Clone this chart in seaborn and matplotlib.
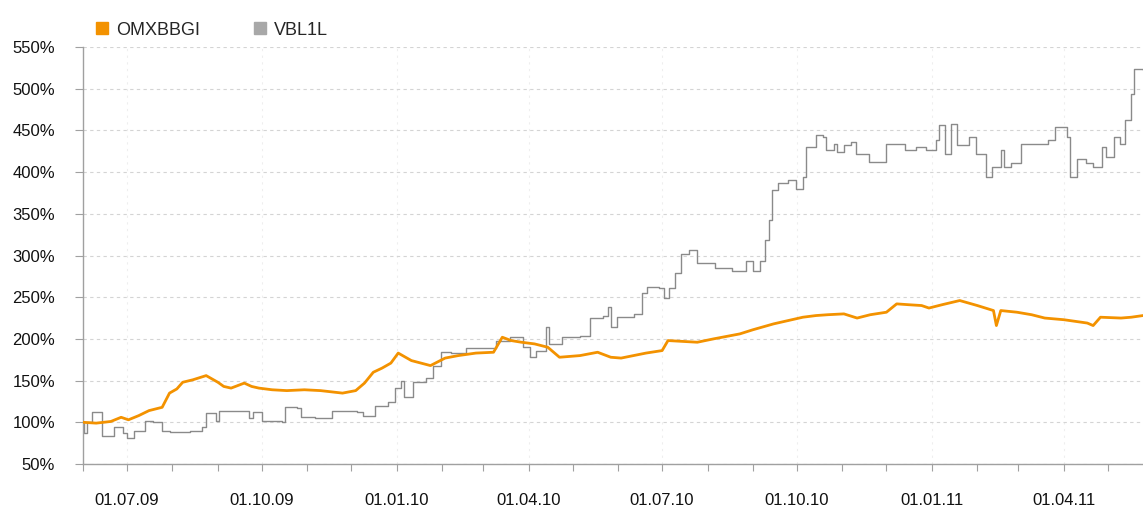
import matplotlib
matplotlib.use("Agg")
from matplotlib import pyplot as plt
import matplotlib.dates as mdates
import matplotlib.ticker as plticker
from matplotlib.lines import Line2D
import seaborn as sns
import pandas as pd

sns.set_theme(style="white")
plt.rcParams['font.family'] = ['Liberation Sans', 'DejaVu Sans']

# OMXBBGI index, % of start value
omx_dates = ["2009-06-01", "2009-06-10", "2009-06-20", "2009-06-27", "2009-07-02", "2009-07-09",
             "2009-07-16", "2009-07-25", "2009-07-30", "2009-08-04", "2009-08-08", "2009-08-15",
             "2009-08-24", "2009-09-01", "2009-09-05", "2009-09-10", "2009-09-19", "2009-09-24",
             "2009-09-29", "2009-10-08", "2009-10-18", "2009-10-30", "2009-11-10", "2009-11-25",
             "2009-12-04", "2009-12-10", "2009-12-16", "2009-12-22", "2009-12-28", "2010-01-02",
             "2010-01-06", "2010-01-11", "2010-01-24", "2010-02-03", "2010-02-12", "2010-02-24",
             "2010-03-08", "2010-03-14", "2010-03-20", "2010-03-27", "2010-04-05", "2010-04-14",
             "2010-04-22", "2010-05-06", "2010-05-18", "2010-05-27", "2010-06-03", "2010-06-20",
             "2010-07-01", "2010-07-05", "2010-07-15", "2010-07-25", "2010-08-05", "2010-08-23",
             "2010-09-01", "2010-09-15", "2010-09-25", "2010-10-05", "2010-10-14", "2010-10-22",
             "2010-11-02", "2010-11-11", "2010-11-20", "2010-12-01", "2010-12-08", "2010-12-16",
             "2010-12-25", "2010-12-30", "2011-01-08", "2011-01-20", "2011-02-01", "2011-02-12",
             "2011-02-14", "2011-02-17", "2011-02-28", "2011-03-10", "2011-03-19", "2011-04-01",
             "2011-04-17", "2011-04-21", "2011-04-26", "2011-05-10", "2011-05-17", "2011-05-25"]
omx_values = [100, 99, 101, 106, 103, 108,
              114, 118, 135, 140, 148, 151,
              156, 148, 143, 141, 147, 143,
              141, 139, 138, 139, 138, 135,
              138, 147, 160, 165, 171, 183,
              179, 174, 168, 177, 180, 183,
              184, 202, 198, 196, 194, 190,
              178, 180, 184, 178, 177, 183,
              186, 198, 197, 196, 200, 206,
              211, 218, 222, 226, 228, 229,
              230, 225, 229, 232, 242, 241,
              240, 237, 241, 246, 240, 234,
              216, 234, 232, 229, 225, 223,
              219, 216, 226, 225, 226, 228]

# VBL1L share, % of start value (step changes)
vbl_dates = ["2009-06-01", "2009-06-02", "2009-06-04", "2009-06-07", "2009-06-14", "2009-06-22",
             "2009-06-28", "2009-07-01", "2009-07-06", "2009-07-13", "2009-07-19", "2009-07-25",
             "2009-07-30", "2009-08-13", "2009-08-21", "2009-08-24", "2009-08-31", "2009-09-02",
             "2009-09-22", "2009-09-25", "2009-10-01", "2009-10-15", "2009-10-17", "2009-10-25",
             "2009-10-28", "2009-11-06", "2009-11-18", "2009-12-05", "2009-12-09", "2009-12-17",
             "2009-12-26", "2009-12-31", "2010-01-04", "2010-01-06", "2010-01-12", "2010-01-21",
             "2010-01-26", "2010-01-31", "2010-02-07", "2010-02-17", "2010-03-10", "2010-03-19",
             "2010-03-28", "2010-04-02", "2010-04-06", "2010-04-13", "2010-04-15", "2010-04-24",
             "2010-05-06", "2010-05-13", "2010-05-22", "2010-05-25", "2010-05-27", "2010-05-31",
             "2010-06-12", "2010-06-17", "2010-06-21", "2010-06-29", "2010-07-02", "2010-07-06",
             "2010-07-10", "2010-07-14", "2010-07-19", "2010-07-25", "2010-08-06", "2010-08-18",
             "2010-08-27", "2010-09-01", "2010-09-06", "2010-09-09", "2010-09-12", "2010-09-14",
             "2010-09-18", "2010-09-25", "2010-09-30", "2010-10-05", "2010-10-07", "2010-10-14",
             "2010-10-19", "2010-10-21", "2010-10-26", "2010-10-28", "2010-11-02", "2010-11-07",
             "2010-11-10", "2010-11-19", "2010-12-01", "2010-12-14", "2010-12-21", "2010-12-28",
             "2011-01-04", "2011-01-06", "2011-01-10", "2011-01-14", "2011-01-18", "2011-01-26",
             "2011-01-31", "2011-02-07", "2011-02-11", "2011-02-17", "2011-02-19", "2011-02-24",
             "2011-03-03", "2011-03-21", "2011-03-26", "2011-04-03", "2011-04-05", "2011-04-10",
             "2011-04-16", "2011-04-21", "2011-04-27", "2011-04-30", "2011-05-05", "2011-05-09",
             "2011-05-13", "2011-05-17", "2011-05-19", "2011-05-25"]
vbl_values = [100, 87, 100, 112, 84, 94,
              87, 81, 90, 102, 100, 90,
              88, 90, 94, 111, 102, 114,
              105, 112, 102, 100, 118, 117,
              106, 105, 114, 112, 108, 120,
              124, 141, 150, 130, 148, 153,
              168, 184, 183, 189, 198, 202,
              190, 178, 186, 214, 194, 202,
              204, 225, 228, 238, 214, 226,
              230, 255, 262, 261, 249, 261,
              279, 302, 306, 291, 285, 282,
              294, 282, 294, 318, 342, 378,
              387, 390, 380, 394, 430, 444,
              442, 426, 434, 424, 432, 436,
              422, 412, 434, 426, 430, 426,
              438, 456, 422, 458, 432, 442,
              422, 394, 406, 426, 406, 411,
              434, 438, 454, 442, 394, 416,
              411, 406, 430, 418, 442, 434,
              462, 494, 524, 522]

omx = pd.DataFrame({"Date": pd.to_datetime(omx_dates), "Value": omx_values})
vbl = pd.DataFrame({"Date": pd.to_datetime(vbl_dates), "Value": vbl_values})

orange = "#F39200"
grey = "#8A8A8A"

fig = plt.figure(figsize=(11.43, 5.07), dpi=100)
ax = fig.add_axes([83 / 1143, 43 / 507, 1 - 83 / 1143, 417 / 507])

sns.lineplot(x="Date", y="Value", data=vbl, color=grey, linewidth=1.0,
             drawstyle="steps-post", ax=ax, zorder=2)
sns.lineplot(x="Date", y="Value", data=omx, color=orange, linewidth=2.0, ax=ax, zorder=3)

ax.set_xlim(pd.Timestamp("2009-06-01"), pd.Timestamp("2011-05-25"))
ax.set_ylim(50, 550)
ax.set_xlabel("")
ax.set_ylabel("")

ax.yaxis.set_major_locator(plticker.MultipleLocator(50))
ax.yaxis.set_major_formatter(plticker.FuncFormatter(lambda v, p: "%d%%" % v))
ax.xaxis.set_major_locator(mdates.MonthLocator(bymonth=[1, 4, 7, 10]))
ax.xaxis.set_minor_locator(mdates.MonthLocator())
ax.xaxis.set_major_formatter(mdates.DateFormatter("%d.%m.%y"))

ax.yaxis.grid(True, linestyle=(0, (3, 3)), color="#D4D4D4", linewidth=0.8)
ax.xaxis.grid(True, linestyle=(0, (2, 4)), color="#EEEEEE", linewidth=0.8)

for s in ["top", "right"]:
    ax.spines[s].set_visible(False)
for s in ["left", "bottom"]:
    ax.spines[s].set_color("#A0A0A0")
    ax.spines[s].set_linewidth(1.0)

ax.tick_params(axis="y", which="major", direction="out", length=6, width=0.8, color="#A0A0A0",
               labelsize=12, labelcolor="#111111", pad=14, left=True)
ax.tick_params(axis="x", which="both", direction="out", length=5, width=0.8, color="#A0A0A0",
               bottom=True)
ax.tick_params(axis="x", which="major", labelsize=12, labelcolor="#111111", pad=16)

handles = [Line2D([], [], marker="s", linestyle="none", color=orange, markersize=8),
           Line2D([], [], marker="s", linestyle="none", color="#A8A8A8", markersize=8)]
fig.legend(handles, ["OMXBBGI", "VBL1L"], loc="upper left", bbox_to_anchor=(80 / 1143, 0.982),
           ncol=2, frameon=False, fontsize=13, handletextpad=0.3, columnspacing=2.8,
           borderaxespad=0.3, handlelength=1.0)

plt.savefig("out.png", dpi=100)
